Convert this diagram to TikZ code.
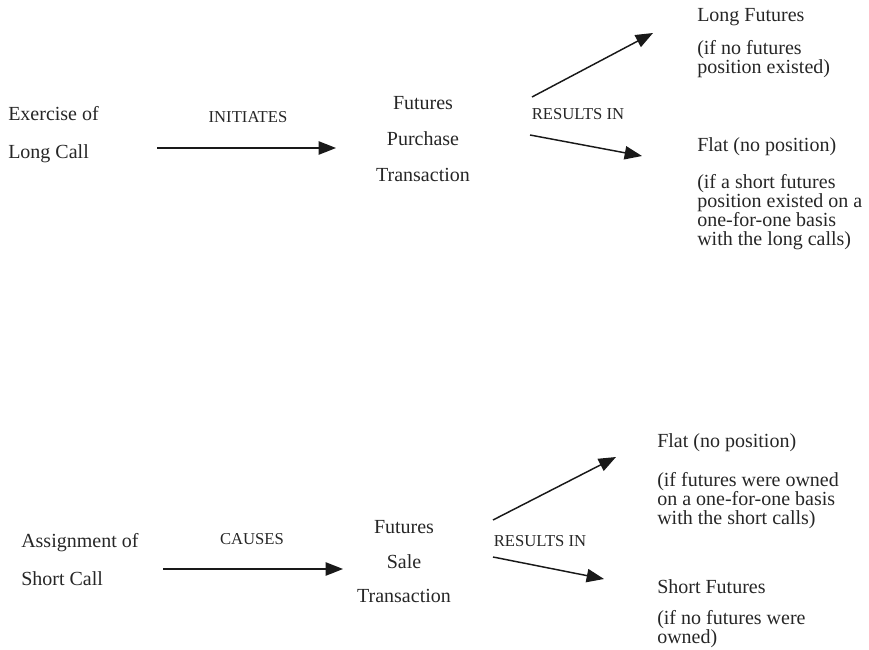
\documentclass[tikz,border=0pt]{standalone}
\usepackage{fontspec}
\setmainfont{Liberation Serif}
\usetikzlibrary{positioning,arrows.meta}

\begin{document}
\begin{tikzpicture}[x=0.75pt,y=-0.75pt,
                       main text/.style={inner sep=0pt,text=black!85,
                                         font=\fontsize{15}{28.5}\selectfont},
                       note text/.style={inner sep=0pt,text=black!85,align=left,
                                         anchor=north west,
                                         font=\fontsize{15}{14.25}\selectfont},
                       verb text/.style={inner sep=0pt,text=black!85,
                                         font=\fontsize{12.5}{13}\selectfont},
                       arr/.style={-{Triangle[length=13pt,width=10pt]},
                                   line width=1.1pt,black!90}
                           ]
   \useasboundingbox (0,0) rectangle (869,650);
   % exercise of a long call
   \node[main text,align=left,anchor=north west] (exlc) at (8,106) {Exercise of\\Long Call};
   \node[main text,align=center,anchor=north,
         font=\fontsize{15}{27}\selectfont] (fpt) at (423,96) {Futures\\Purchase\\Transaction};
   \node[verb text] (init) at (248,117) {INITIATES};
   \node[verb text] (res1) at (578,114) {RESULTS IN};
   \node[main text,anchor=north west] (lf) at (697,8) {Long Futures};
   \node[note text] (lfnote) at (697,40) {(if no futures\\position existed)};
   \node[main text,anchor=north west] (flat1) at (697,137) {Flat (no position)};
   \node[note text] (flat1note) at (697,174) {(if a short futures\\position existed on a\\one-for-one basis\\with the long calls)};
   \coordinate (a1s) at (157,148);
   \coordinate (a1e) at (336,148);
   \coordinate (b1s) at (532,97);
   \coordinate (b1e) at (653,33);
   \coordinate (c1s) at (530,135);
   \coordinate (c1e) at (642,156);
   \draw[arr] (a1s) -- (a1e);
   \draw[arr] (b1s) -- (b1e);
   \draw[arr] (c1s) -- (c1e);
   % assignment of a short call
   \node[main text,align=left,anchor=north west] (assc) at (21,533) {Assignment of\\Short Call};
   \node[main text,align=center,anchor=north,
         font=\fontsize{15}{26}\selectfont] (fst) at (404,520) {Futures\\Sale\\Transaction};
   \node[verb text] (caus) at (252,539) {CAUSES};
   \node[verb text] (res2) at (540,541) {RESULTS IN};
   \node[main text,anchor=north west] (flat2) at (657,433) {Flat (no position)};
   \node[note text] (flat2note) at (657,472) {(if futures were owned\\on a one-for-one basis\\with the short calls)};
   \node[main text,anchor=north west] (sf) at (657,579) {Short Futures};
   \node[note text] (sfnote) at (657,610) {(if no futures were\\owned)};
   \coordinate (a2s) at (163,569);
   \coordinate (a2e) at (343,569);
   \coordinate (b2s) at (493,520);
   \coordinate (b2e) at (616,457);
   \coordinate (c2s) at (493,557);
   \coordinate (c2e) at (604,579);
   \draw[arr] (a2s) -- (a2e);
   \draw[arr] (b2s) -- (b2e);
   \draw[arr] (c2s) -- (c2e);
\end{tikzpicture}
\end{document}
